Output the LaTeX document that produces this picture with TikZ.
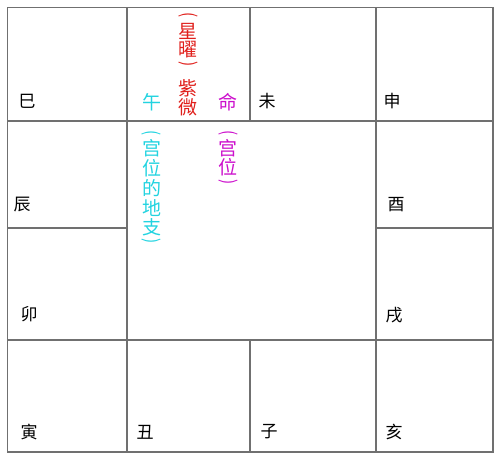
\documentclass[tikz,border=0pt]{standalone}
\usepackage{fontspec}
\setmainfont{Noto Sans CJK SC}
\definecolor{xingred}{HTML}{E0201C}
\definecolor{zhicyan}{HTML}{22D3E0}
\definecolor{mingmag}{HTML}{CC10CC}
\definecolor{gridgray}{HTML}{707070}
\tikzset{
  gridline/.style={draw=gridgray, line width=1.2pt},
  zhi/.style={inner sep=0pt, font=\fontsize{17}{17}\selectfont},
  tag/.style={inner sep=0pt, font=\fontsize{19}{19}\selectfont},
  paren/.style={inner sep=0pt, rotate=-90, xscale=0.8, font=\fontsize{19}{19}\selectfont}
}
\begin{document}
\begin{tikzpicture}[x=1pt,y=-1pt]
  \useasboundingbox (0,0) rectangle (500,460);
  % grid of the twelve palaces
  \draw[gridline] (7.5,7.5) rectangle (493,452);
  \draw[gridline] (127,7.5) -- (127,452);
  \draw[gridline] (376,7.5) -- (376,452);
  \draw[gridline] (250,7.5) -- (250,121);
  \draw[gridline] (250,340) -- (250,452);
  \draw[gridline] (7.5,121) -- (493,121);
  \draw[gridline] (7.5,340) -- (493,340);
  \draw[gridline] (7.5,228) -- (127,228);
  \draw[gridline] (376,228) -- (493,228);
  % earthly branches
  \node[zhi] (si)   at (27,101)  {巳};
  \node[zhi] (wei)  at (267,101) {未};
  \node[zhi] (shen) at (392,101) {申};
  \node[zhi] (chen) at (22,205)  {辰};
  \node[zhi] (you)  at (396,205) {酉};
  \node[zhi] (mao)  at (29,314)  {卯};
  \node[zhi] (xu)   at (394,315) {戌};
  \node[zhi] (yin)  at (29,432)  {寅};
  \node[zhi] (chou) at (145,432) {丑};
  \node[zhi] (zi)   at (269,432) {子};
  \node[zhi] (hai)  at (394,432) {亥};
  % the ming palace
  \node[tag, text=zhicyan] (wu)   at (152,102) {午};
  \node[tag, text=mingmag] (ming) at (228,102) {命};
  \node[paren, text=xingred] (star-open)  at (188,15) {(};
  \node[paren, text=xingred] (star-close) at (188,64) {)};
  \foreach \ch/\y [count=\i] in {星/31, 曜/50, 紫/88, 微/107}
    \node[tag, text=xingred] (star-\i) at (188,\y) {\ch};
  \node[paren, text=mingmag] (gong-open)  at (228,133) {(};
  \node[paren, text=mingmag] (gong-close) at (228,182) {)};
  \foreach \ch/\y [count=\i] in {宫/148, 位/167}
    \node[tag, text=mingmag] (gong-\i) at (228,\y) {\ch};
  \node[paren, text=zhicyan] (dizhi-open)  at (151.5,133) {(};
  \node[paren, text=zhicyan] (dizhi-close) at (151.5,241) {)};
  \foreach \ch/\y [count=\i] in {宫/148, 位/168, 的/188, 地/208, 支/227}
    \node[tag, text=zhicyan] (dizhi-\i) at (151.5,\y) {\ch};
\end{tikzpicture}
\end{document}
